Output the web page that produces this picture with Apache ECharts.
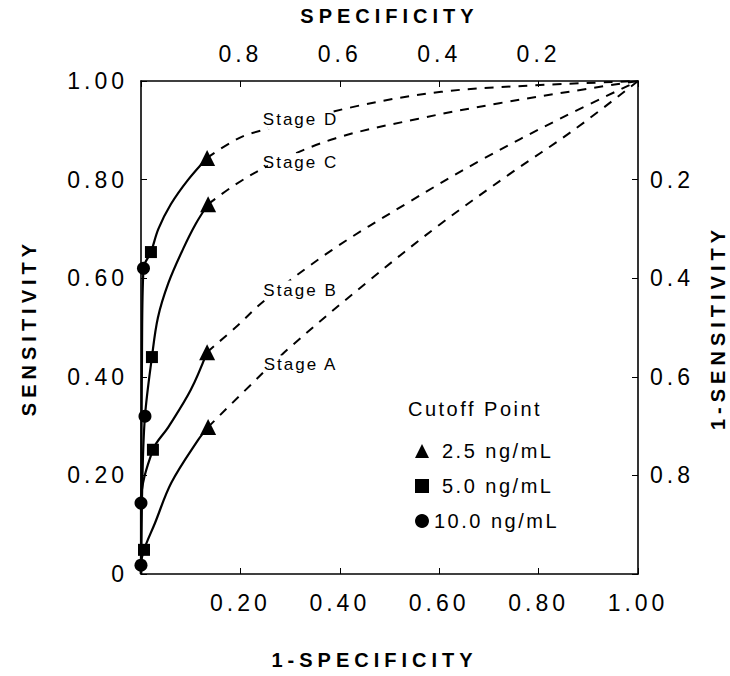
<!DOCTYPE html>
<html>
<head>
<meta charset="utf-8">
<script src="https://cdn.jsdelivr.net/npm/echarts@6/dist/echarts.min.js"></script>
<style>
  html, body { margin: 0; padding: 0; background: #fff; }
  #chart { width: 730px; height: 676px; }
</style>
</head>
<body>
<div id="chart"></div>
<script>
// ROC curves of a serum marker by disease stage, x = 1-specificity, y = sensitivity
const stageNames = ['Stage A', 'Stage B', 'Stage C', 'Stage D'];
const cutoffNames = ['2.5 ng/mL', '5.0 ng/mL', '10.0 ng/mL'];

// Operating points per cutoff, one per stage (A, B, C, D)
const cut25 = [[0.135, 0.298], [0.133, 0.45], [0.135, 0.75], [0.133, 0.844]];
const cut50 = [[0.006, 0.049], [0.024, 0.252], [0.022, 0.44], [0.02, 0.653]];
const cut100 = [[0, 0.018], [0, 0.144], [0.008, 0.32], [0.005, 0.62]];

// Fitted (solid) part of each curve
const solidA = [[0, 0], [0, 0.018], [0.006, 0.049], [0.028, 0.103], [0.061, 0.185], [0.115, 0.272], [0.135, 0.298]];
const solidB = [[0, 0], [0, 0.144], [0.024, 0.252], [0.055, 0.298], [0.10, 0.373], [0.133, 0.45]];
const solidC = [[0, 0], [0.003, 0.2], [0.008, 0.32], [0.022, 0.44], [0.034, 0.52], [0.055, 0.59], [0.085, 0.66], [0.11, 0.71], [0.135, 0.75]];
const solidD = [[0, 0], [0.002, 0.45], [0.005, 0.62], [0.02, 0.653], [0.035, 0.70], [0.06, 0.75], [0.095, 0.80], [0.133, 0.844]];

// Extrapolated (dashed) part, towards (1, 1)
const dashA = [[0.135, 0.298], [0.21, 0.373], [0.30, 0.46], [0.46, 0.596], [0.60, 0.708], [0.74, 0.81], [0.87, 0.9], [1, 1]];
const dashB = [[0.133, 0.45], [0.19, 0.50], [0.25, 0.556], [0.384, 0.657], [0.535, 0.752], [0.685, 0.84], [0.842, 0.923], [1, 1]];
const dashC = [[0.135, 0.75], [0.19, 0.79], [0.26, 0.83], [0.392, 0.884], [0.556, 0.923], [0.721, 0.955], [0.897, 0.984], [1, 1]];
const dashD = [[0.133, 0.844], [0.182, 0.876], [0.222, 0.894], [0.434, 0.949], [0.604, 0.978], [0.768, 0.99], [1, 1]];

// Where each stage name sits
const stageLabelPos = [[0.321, 0.424], [0.321, 0.576], [0.321, 0.834], [0.321, 0.921]];

// Tick values
const tickStep = 0.2;

const FONT = '"Liberation Sans", Arial, Helvetica, sans-serif';
const INK = '#000';

const chart = echarts.init(document.getElementById('chart'), null, { renderer: 'svg' });

const solids = [solidA, solidB, solidC, solidD];
const dashes = [dashA, dashB, dashC, dashD];

const series = [];
solids.forEach((d, i) => {
  series.push({
    type: 'line', name: stageNames[i] + ' fit', data: d,
    smooth: 0.35, showSymbol: false, silent: true, z: 3,
    lineStyle: { color: INK, width: 2.2 }
  });
});
dashes.forEach((d, i) => {
  series.push({
    type: 'line', name: stageNames[i] + ' extrapolated', data: d,
    smooth: 0.35, showSymbol: false, silent: true, z: 2,
    lineStyle: { color: INK, width: 2, type: [9, 8] }
  });
});
series.push({
  type: 'scatter', name: stageNames.join(','), silent: true, z: 6,
  data: stageLabelPos.map((p, i) => ({ value: p, name: stageNames[i] })),
  symbolSize: 0,
  itemStyle: { color: INK, opacity: 1 },
  label: {
    show: true, position: 'inside', formatter: p => p.name,
    fontFamily: FONT, fontSize: 17, color: INK, opacity: 1,
    textBorderWidth: 0, textBorderColor: 'transparent',
    backgroundColor: '#fff', padding: [1, 2]
  }
});
const markers = [
  { name: cutoffNames[0], data: cut25, symbol: 'triangle', size: 16 },
  { name: cutoffNames[1], data: cut50, symbol: 'rect', size: 12 },
  { name: cutoffNames[2], data: cut100, symbol: 'circle', size: 13 }
];
markers.forEach(m => {
  series.push({
    type: 'scatter', name: m.name, data: m.data, symbol: m.symbol,
    symbolSize: m.size, z: 8, silent: true,
    itemStyle: { color: INK, opacity: 1 }
  });
});

const axisCommon = {
  type: 'value', min: 0, max: 1, interval: tickStep,
  axisLine: { show: true, onZero: false, lineStyle: { color: INK, width: 1.6 } },
  axisTick: { show: true, inside: true, length: 6, lineStyle: { color: INK, width: 1 } },
  splitLine: { show: false },
  nameLocation: 'middle',
  nameTextStyle: { fontFamily: FONT, fontWeight: 'bold', fontSize: 20, color: INK }
};
const labelCommon = { fontFamily: FONT, fontSize: 23, color: INK };

chart.setOption({
  animation: false,
  backgroundColor: '#fff',
  grid: { left: 141, top: 81, width: 497, height: 493, containLabel: false, outerBoundsMode: 'none' },
  xAxis: [
    Object.assign({}, axisCommon, {
      position: 'bottom', name: '1-SPECIFICITY', nameGap: 76,
      nameTextStyle: Object.assign({}, axisCommon.nameTextStyle, { padding: [0, 30, 0, 0] }),
      axisLabel: Object.assign({}, labelCommon, {
        margin: 17, formatter: v => (v === 0 ? '' : v.toFixed(2))
      })
    }),
    Object.assign({}, axisCommon, {
      position: 'top', name: 'SPECIFICITY', nameGap: 55,
      axisLabel: Object.assign({}, labelCommon, {
        margin: 16, formatter: v => (v <= 0 || v >= 1 ? '' : (1 - v).toFixed(1))
      })
    })
  ],
  yAxis: [
    Object.assign({}, axisCommon, {
      position: 'left', name: 'SENSITIVITY', nameGap: 102, nameRotate: 90,
      axisLabel: Object.assign({}, labelCommon, {
        margin: 13, formatter: v => (v === 0 ? '0' : v.toFixed(2))
      })
    }),
    Object.assign({}, axisCommon, {
      position: 'right', name: '1-SENSITIVITY', nameGap: 70, nameRotate: 90,
      axisLabel: Object.assign({}, labelCommon, {
        margin: 12, formatter: v => (v <= 0 || v >= 1 ? '' : (1 - v).toFixed(1))
      })
    })
  ],
  legend: {
    data: cutoffNames, orient: 'vertical', left: 410, top: 436,
    itemWidth: 14, itemHeight: 14, itemGap: 15,
    itemStyle: { opacity: 1 },
    formatter: name => (name === cutoffNames[2] ? name : '{wide|' + name + '}'),
    textStyle: {
      fontFamily: FONT, fontSize: 20, color: INK,
      rich: { wide: { fontFamily: FONT, fontSize: 20, color: INK, padding: [0, 0, 0, 8] } }
    },
    selectedMode: false
  },
  graphic: [{
    type: 'text', left: 408, top: 399, silent: true,
    style: { text: 'Cutoff Point', font: '20px ' + FONT, fill: INK }
  }],
  series: series
});

// Spread letters the way the typeset figure does
const titleTexts = ['1-SPECIFICITY', 'SPECIFICITY', 'SENSITIVITY', '1-SENSITIVITY'];
function track() {
  chart.getDom().querySelectorAll('text').forEach(t => {
    const s = t.textContent.trim();
    let ls = 2.5;
    if (titleTexts.indexOf(s) >= 0) ls = 5;
    else if (/^[\d.]+$/.test(s)) ls = 4;
    else if (s.indexOf('Stage') === 0) ls = 2;
    t.style.letterSpacing = ls + 'px';
  });
}
chart.on('finished', track);
setTimeout(track, 200);
</script>
</body>
</html>
